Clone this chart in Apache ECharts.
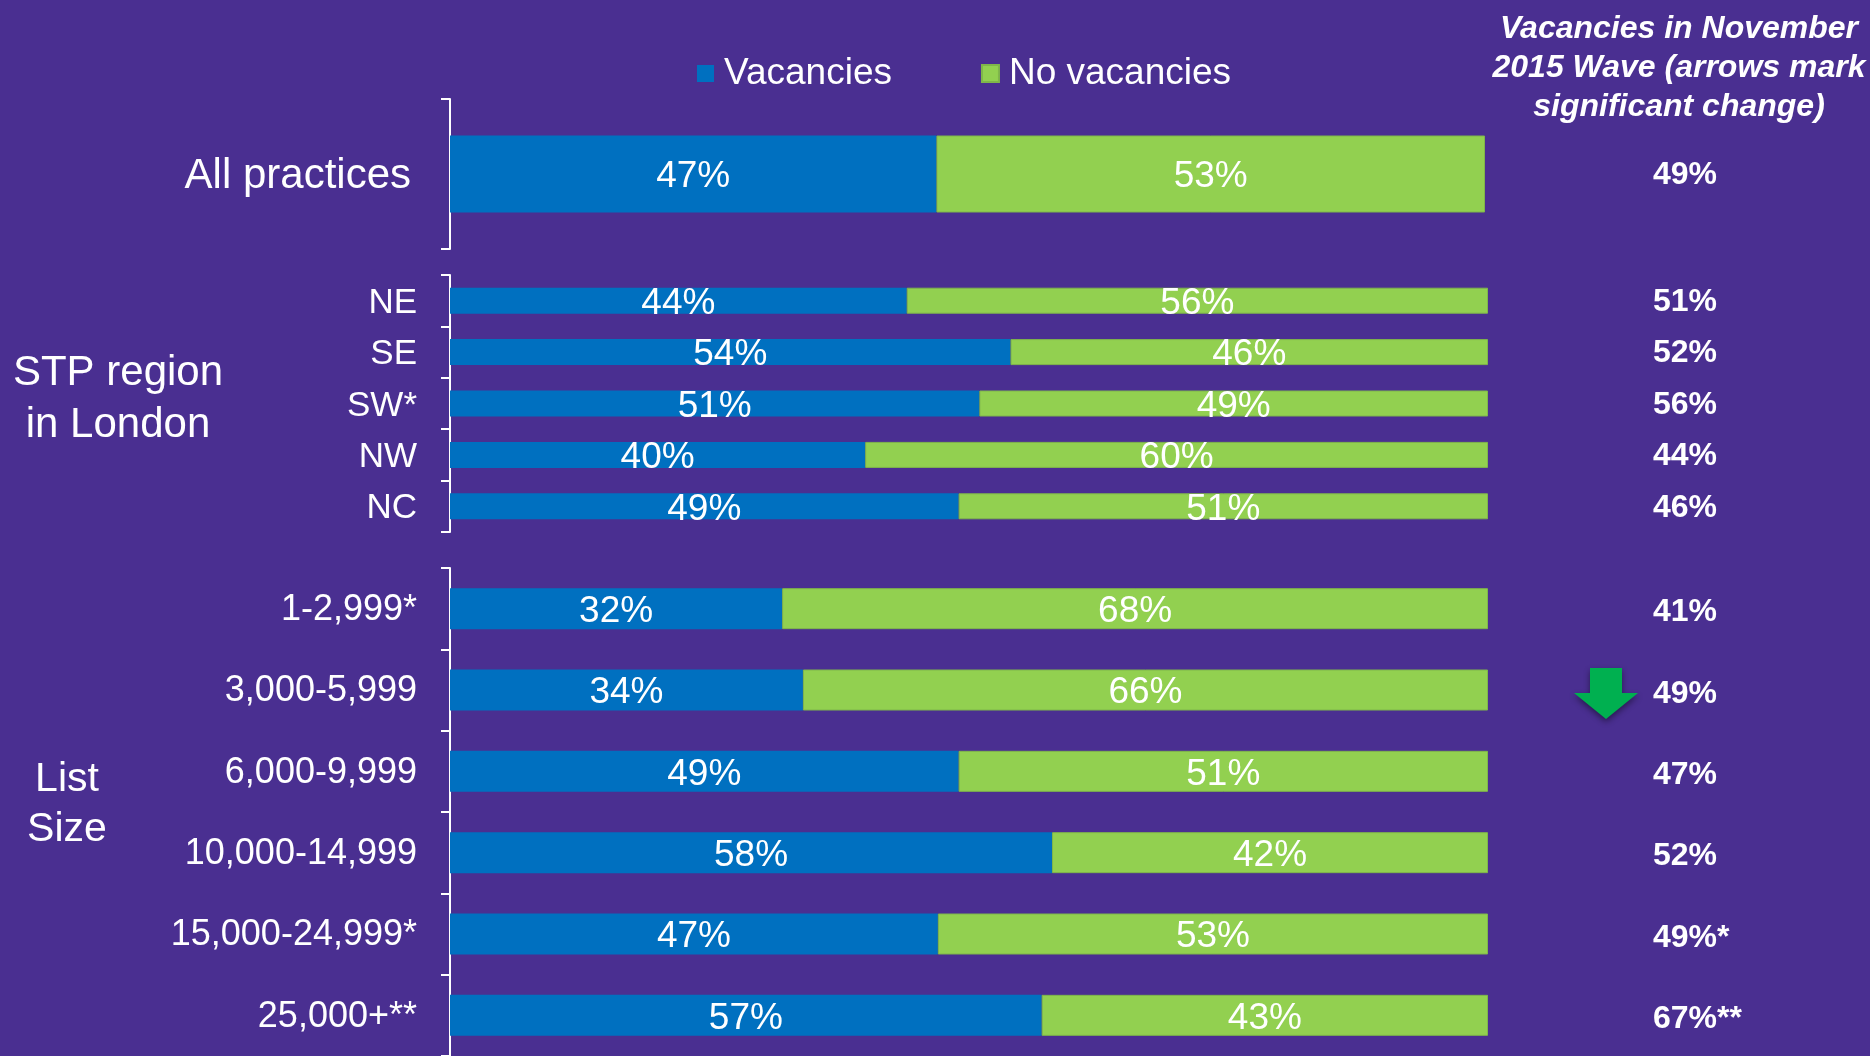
<!DOCTYPE html>
<html>
<head>
<meta charset="utf-8">
<script src="https://cdn.jsdelivr.net/npm/echarts@6/dist/echarts.min.js"></script>
<style>
  html, body { margin: 0; padding: 0; background: #4a2f91; }
  #chart { width: 1870px; height: 1056px; }
</style>
</head>
<body>
<div id="chart"></div>
<script>
// rows of the three blocks
const allCats = ["All practices"];
const allVac = [47];
const allNoVac = [53];
const allNov = ["49%"];

const regionCats = ["NE", "SE", "SW*", "NW", "NC"];
const regionVac = [44, 54, 51, 40, 49];
const regionNoVac = [56, 46, 49, 60, 51];
const regionNov = ["51%", "52%", "56%", "44%", "46%"];

const sizeCats = ["1-2,999*", "3,000-5,999", "6,000-9,999", "10,000-14,999", "15,000-24,999*", "25,000+**"];
const sizeVac = [32, 34, 49, 58, 47, 57];
const sizeNoVac = [68, 66, 51, 42, 53, 43];
const sizeNov = ["41%", "49%", "47%", "52%", "49%*", "67%**"];
const sizeChange = [null, "down", null, null, null, null];

const BLUE = "#0070c0";
const GREEN = "#92d050";
const FONT = "Liberation Sans, Arial, sans-serif";

const chartDom = document.getElementById("chart");
const myChart = echarts.init(chartDom);

// top-aligned label with a short line box: text centre sits dy below the tick
const leftAxis = (idx, cats, fontSize, margin, dy) => ({
  type: "category",
  gridIndex: idx,
  data: cats,
  inverse: true,
  axisLine: { show: true, lineStyle: { color: "#fff", width: 2 } },
  axisTick: { show: true, length: 9, lineStyle: { color: "#fff", width: 2 } },
  axisLabel: {
    color: "#fff", fontSize: fontSize, fontFamily: FONT, margin: margin,
    interval: 0, verticalAlign: "top", lineHeight: dy * 2,
  },
});

const rightAxis = (idx, nov, margin, dy) => ({
  type: "category",
  gridIndex: idx,
  position: "right",
  data: nov,
  inverse: true,
  axisLine: { show: false },
  axisTick: { show: false },
  axisLabel: {
    color: "#fff", fontSize: 32, fontWeight: "bold", fontFamily: FONT,
    margin: margin, align: "left",
    interval: 0, verticalAlign: "top", lineHeight: dy * 2,
  },
});

const barLabel = {
  show: true,
  position: "inside",
  color: "#fff",
  fontSize: 37,
  fontFamily: FONT,
  offset: [0, 3],
  formatter: "{c}%",
};

const barPair = (idx, vac, noVac, width) => [
  {
    name: "Vacancies", type: "bar", stack: "s" + idx,
    xAxisIndex: idx, yAxisIndex: idx * 2,
    barWidth: width, data: vac,
    itemStyle: { color: BLUE },
    label: barLabel,
  },
  {
    name: "No vacancies", type: "bar", stack: "s" + idx,
    xAxisIndex: idx, yAxisIndex: idx * 2,
    barWidth: width, data: noVac,
    itemStyle: { color: GREEN, borderColor: "#7fb64a", borderWidth: 1 },
    label: barLabel,
  },
];

const xAxis = [0, 1, 2].map((i) => ({
  type: "value", gridIndex: i, min: 0, max: 100, show: false,
}));

const option = {
  backgroundColor: "#4a2f91",
  animation: false,
  textStyle: { fontFamily: FONT },
  title: [
    {
      text: "Vacancies in November\n2015 Wave (arrows mark\nsignificant change)",
      left: 1674, top: 5, textAlign: "center",
      textStyle: {
        color: "#fff", fontSize: 32, fontWeight: "bold", fontStyle: "italic",
        lineHeight: 39, fontFamily: FONT,
      },
    },
    {
      text: "STP region\nin London",
      left: 113, top: 342, textAlign: "center",
      textStyle: { color: "#fff", fontSize: 42, fontWeight: "normal", lineHeight: 52, fontFamily: FONT },
    },
    {
      text: "List\nSize",
      left: 62, top: 750, textAlign: "center",
      textStyle: { color: "#fff", fontSize: 41, fontWeight: "normal", lineHeight: 50, fontFamily: FONT },
    },
  ],
  legend: {
    data: ["Vacancies", "No vacancies"],
    left: 692, top: 50,
    icon: "rect", itemWidth: 17, itemHeight: 17, itemGap: 89,
    textStyle: { color: "#fff", fontSize: 37, fontFamily: FONT, padding: [0, 0, 0, 5] },
  },
  grid: [
    { left: 450, right: 385, top: 99, height: 150 },
    { left: 450, right: 382, top: 275, height: 257 },
    { left: 450, right: 382, top: 568, height: 488 },
  ],
  xAxis: xAxis,
  yAxis: [
    leftAxis(0, allCats, 42, 39, 2.5), rightAxis(0, allNov, 168, 1.5),
    leftAxis(1, regionCats, 35, 33, 2.5), rightAxis(1, regionNov, 165, 1.5),
    leftAxis(2, sizeCats, 36, 33, 1.5), rightAxis(2, sizeNov, 165, 4),
  ],
  series: [
    ...barPair(0, allVac, allNoVac, 77),
    ...barPair(1, regionVac, regionNoVac, 26),
    ...barPair(2, sizeVac, sizeNoVac, 41),
  ],
};

option && myChart.setOption(option);

// significance arrows next to the Nov 2015 column
const arrows = [];
sizeChange.forEach((dir, i) => {
  if (!dir) return;
  const y = myChart.convertToPixel({ yAxisIndex: 4 }, sizeCats[i]);
  const x = 1606;
  arrows.push({
    type: "polygon",
    shape: {
      points: [
        [x - 16, y - 22], [x + 16, y - 22], [x + 16, y + 3], [x + 32, y + 3],
        [x, y + 29], [x - 32, y + 3], [x - 16, y + 3],
      ],
    },
    style: {
      fill: "#00b050",
      shadowBlur: 6, shadowColor: "rgba(0,0,0,0.45)", shadowOffsetY: 3,
    },
  });
});
myChart.setOption({ graphic: arrows });
</script>
</body>
</html>
